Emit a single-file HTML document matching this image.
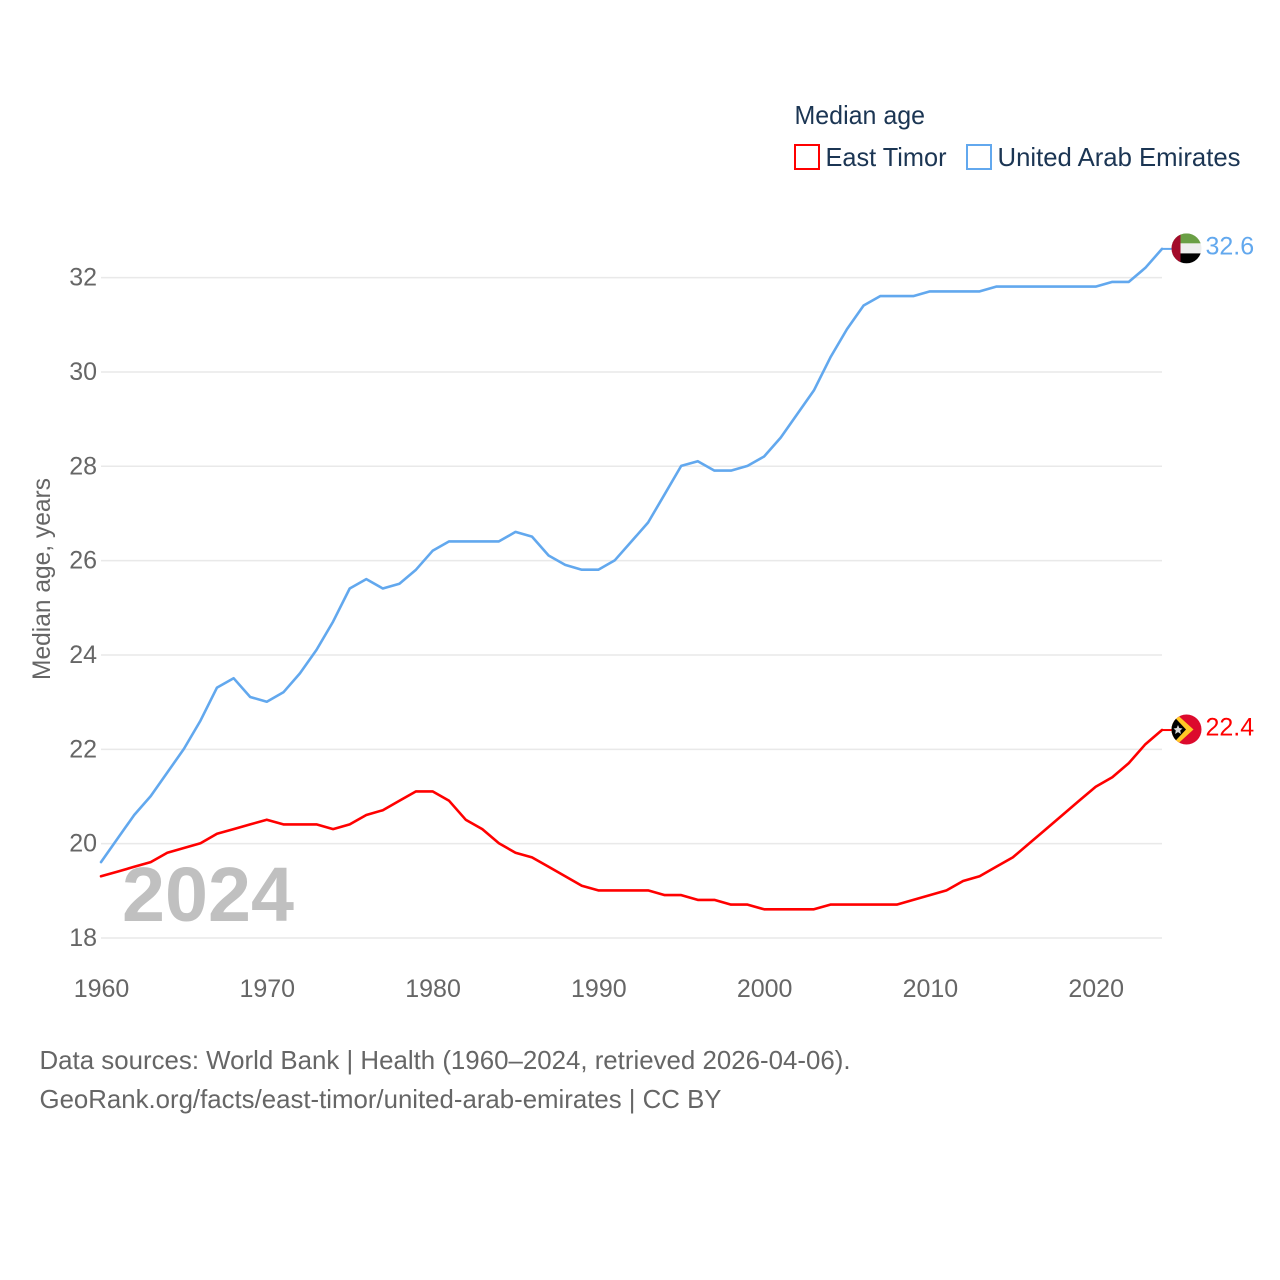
<!DOCTYPE html>
<html lang="en">
<head>
<meta charset="utf-8">
<title>Median age: East Timor and United Arab Emirates</title>
<style>
html,body{margin:0;padding:0;background:#fff;width:1280px;height:1280px;overflow:hidden}
svg{display:block}
text{font-family:"Liberation Sans",sans-serif}
</style>
</head>
<body>
<svg id="chart" width="1280" height="1280" viewBox="0 0 1280 1280" xmlns="http://www.w3.org/2000/svg">
  <defs>
    <clipPath id="flag-clip"><circle cx="0" cy="0" r="15"/></clipPath>
  </defs>
  <rect width="1280" height="1280" fill="#fff"/>
  <g id="grid"></g>
  <g id="y-ticks"></g>
  <g id="x-ticks"></g>
  <text transform="translate(50,579) rotate(-90)" text-anchor="middle" font-size="25" fill="#666" textLength="202" lengthAdjust="spacingAndGlyphs">Median age, years</text>
  <text x="122" y="921" font-size="77" font-weight="700" fill="#c0c0c0" textLength="172" lengthAdjust="spacingAndGlyphs">2024</text>
  <g id="series"></g>

  <g>
    <text x="794.5" y="124" font-size="26" fill="#1b3553" textLength="130.5" lengthAdjust="spacingAndGlyphs">Median age</text>
    <rect x="795" y="145" width="24" height="24" fill="none" stroke="#ff0000" stroke-width="2"/>
    <text x="825.5" y="166" font-size="26" fill="#1b3553" textLength="121" lengthAdjust="spacingAndGlyphs">East Timor</text>
    <rect x="967" y="145" width="24" height="24" fill="none" stroke="#62a8ee" stroke-width="2"/>
    <text x="997.5" y="166" font-size="26" fill="#1b3553" textLength="243" lengthAdjust="spacingAndGlyphs">United Arab Emirates</text>
  </g>

  <g id="flag-uae">
    <g clip-path="url(#flag-clip)">
      <rect x="-15" y="-15" width="30" height="10" fill="#6a9f45"/>
      <rect x="-15" y="-5" width="30" height="10" fill="#eeeeee"/>
      <rect x="-15" y="5" width="30" height="10" fill="#000"/>
      <rect x="-15" y="-15" width="9" height="30" fill="#a30b2a"/>
    </g>
  </g>
  <g id="flag-tl">
    <g clip-path="url(#flag-clip)">
      <rect x="-15" y="-15" width="30" height="30" fill="#dc0a2d"/>
      <polygon points="-15,-20 7,0 -15,20" fill="#ffc726"/>
      <polygon points="-15,-15.5 -0.5,0 -15,15.5" fill="#000"/>
      <polygon points="-8.5,-4.5 -7.2,-1.5 -4,-1 -6.3,1 -5.6,4.5 -8.5,2.6 -11.4,4.5 -10.7,1 -13,-1 -9.8,-1.5" fill="#d8d8d8"/>
    </g>
  </g>
  <g id="end-labels"></g>

  <g>
    <text x="39.5" y="1069" font-size="26" fill="#666" textLength="811" lengthAdjust="spacingAndGlyphs">Data sources: World Bank | Health (1960–2024, retrieved 2026-04-06).</text>
    <text x="39.5" y="1108" font-size="26" fill="#666" textLength="682" lengthAdjust="spacingAndGlyphs">GeoRank.org/facts/east-timor/united-arab-emirates | CC BY</text>
  </g>
</svg>
<script>
const firstYear = 1960;
const eastTimorValues = [19.3,19.4,19.5,19.6,19.8,19.9,20.0,20.2,20.3,20.4,20.5,20.4,20.4,20.4,20.3,20.4,20.6,20.7,20.9,21.1,21.1,20.9,20.5,20.3,20.0,19.8,19.7,19.5,19.3,19.1,19.0,19.0,19.0,19.0,18.9,18.9,18.8,18.8,18.7,18.7,18.6,18.6,18.6,18.6,18.7,18.7,18.7,18.7,18.7,18.8,18.9,19.0,19.2,19.3,19.5,19.7,20.0,20.3,20.6,20.9,21.2,21.4,21.7,22.1,22.4];
const uaeValues = [19.6,20.1,20.6,21.0,21.5,22.0,22.6,23.3,23.5,23.1,23.0,23.2,23.6,24.1,24.7,25.4,25.6,25.4,25.5,25.8,26.2,26.4,26.4,26.4,26.4,26.6,26.5,26.1,25.9,25.8,25.8,26.0,26.4,26.8,27.4,28.0,28.1,27.9,27.9,28.0,28.2,28.6,29.1,29.6,30.3,30.9,31.4,31.6,31.6,31.6,31.7,31.7,31.7,31.7,31.8,31.8,31.8,31.8,31.8,31.8,31.8,31.9,31.9,32.2,32.6];
const yTickValues = [18,20,22,24,26,28,30,32];
const xTickValues = [1960,1970,1980,1990,2000,2010,2020];

const NS = 'http://www.w3.org/2000/svg';
const xScale = year => 101 + (year - 1960) * (1162 - 101) / 64;
const yScale = value => 938 - (value - 18) * (938 - 277.6) / 14;
const lineY = value => yScale(value) - 0.4;

function make(tag, parent, attrs, content) {
  const el = document.createElementNS(NS, tag);
  for (const k in attrs) el.setAttribute(k, attrs[k]);
  if (content !== undefined) el.textContent = content;
  document.getElementById(parent).appendChild(el);
  return el;
}

yTickValues.forEach(function (v) {
  const line = make('line', 'grid', {x1: xScale(1960), x2: xScale(2024), y1: yScale(v), y2: yScale(v), stroke: '#e9e9e9', 'stroke-width': 1.5});
  
  
  const label = make('text', 'y-ticks', {x: 97, y: yScale(v) + 8, 'text-anchor': 'end', 'font-size': 25, fill: '#666'}, String(v));
  
  
});

xTickValues.forEach(function (v) {
  const label = make('text', 'x-ticks', {x: xScale(v) + 0.5, y: 997, 'text-anchor': 'middle', 'font-size': 25, fill: '#666'}, String(v));
  
  
});

function drawSeries(values, color, slug, flagId) {
  const pts = values.map(function (v, i) {
    return xScale(firstYear + i).toFixed(1) + ',' + lineY(v).toFixed(1);
  });
  const lastValue = values[values.length - 1];
  const lastX = xScale(firstYear + values.length - 1);
  const lastY = lineY(lastValue);

  const line = make('polyline', 'series', {points: pts.join(' '), fill: 'none', stroke: color, 'stroke-width': 2.6, 'stroke-linejoin': 'round', 'stroke-linecap': 'round'});
  
  

  const connector = make('line', 'series', {x1: lastX, x2: lastX + 14, y1: lastY, y2: lastY, stroke: color, 'stroke-width': 2});
  
  

  document.getElementById(flagId).setAttribute('transform', 'translate(1186.5,' + (lastY - 0.5).toFixed(1) + ')');

  const label = make('text', 'end-labels', {x: 1205.5, y: lastY + 5.5, 'font-size': 25, fill: color}, lastValue.toFixed(1));
  
  
}

drawSeries(uaeValues, '#62a8ee', 'united-arab-emirates', 'flag-uae');
drawSeries(eastTimorValues, '#ff0000', 'east-timor', 'flag-tl');
</script>
</body>
</html>
